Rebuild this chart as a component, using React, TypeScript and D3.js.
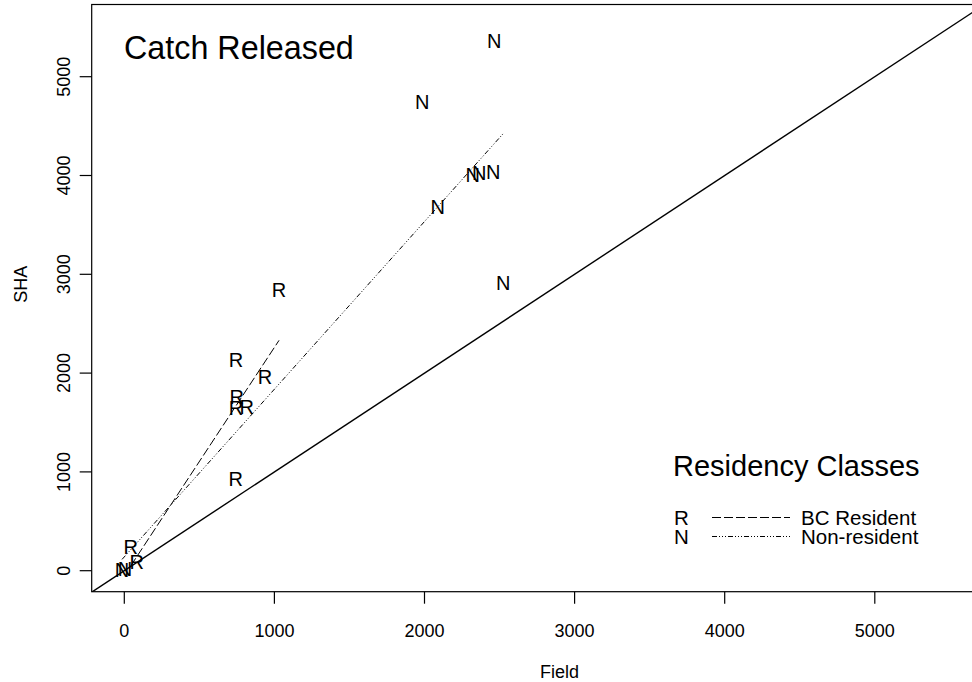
import React from "react";
import * as d3 from "d3";

// Data
const resX = [1031, 744, 937, 749, 744, 815, 742, 43, 83];
const resY = [2841, 2136, 1964, 1761, 1647, 1660, 928, 237, 91];
const nonX = [2465, 1985, 2321, 2365, 2458, 2088, 2525, -15, 5];
const nonY = [5364, 4747, 4005, 4028, 4038, 3684, 2915, 7, 17];
const resFit = [-50, 2.31]; // intercept, slope
const nonFit = [140, 1.697];
const xTicks = [0, 1000, 2000, 3000, 4000, 5000];
const yTicks = [0, 1000, 2000, 3000, 4000, 5000];
const legendLabels = ["BC Resident", "Non-resident"];
const legendKeys = ["R", "N"];

const W = 972;
const H = 682;
const FONT = "'Liberation Sans', Arial, Helvetica, sans-serif";

export default function App() {
  const x = d3.scaleLinear().domain([0, 5000]).range([124.3, 874.8]);
  const y = d3.scaleLinear().domain([0, 5000]).range([570.7, 76.7]);
  const box = { left: 91.7, top: 4.5, right: 977, bottom: 591.7 };

  const line = d3
    .line<[number, number]>()
    .x((d) => x(d[0]))
    .y((d) => y(d[1]));

  const fitPts = (xs: number[], fit: number[]): [number, number][] => {
    const lo = d3.min(xs)!;
    const hi = d3.max(xs)!;
    return [
      [lo, fit[0] + fit[1] * lo],
      [hi, fit[0] + fit[1] * hi],
    ];
  };
  const vLo = x.invert(box.left) - 100;
  const vHi = 6000;
  const dashR = "9,3";
  const dashN = "5,2,1,2,1,2,1,2";

  return (
    <svg
      width={W}
      height={H}
      style={{ position: "absolute", left: 0, top: 0, background: "#fff" }}
      fontFamily={FONT}
    >
      <defs>
        <clipPath id="plotclip">
          <rect x={box.left} y={box.top} width={box.right - box.left} height={box.bottom - box.top} />
        </clipPath>
      </defs>
      <rect x={0} y={0} width={W} height={H} fill="#fff" />
      <rect
        x={box.left}
        y={box.top}
        width={box.right - box.left}
        height={box.bottom - box.top}
        fill="none"
        stroke="#000"
        strokeWidth={1.2}
      />
      {xTicks.map((t) => (
        <g key={"xt" + t}>
          <line x1={x(t)} x2={x(t)} y1={box.bottom} y2={box.bottom + 12} stroke="#000" strokeWidth={1.2} />
          <text x={x(t)} y={637} fontSize={18} textAnchor="middle">
            {t}
          </text>
        </g>
      ))}
      {yTicks.map((t) => (
        <g key={"yt" + t}>
          <line x1={box.left - 12} x2={box.left} y1={y(t)} y2={y(t)} stroke="#000" strokeWidth={1.2} />
          <text transform={`translate(70,${y(t)}) rotate(-90)`} fontSize={18} textAnchor="middle">
            {t}
          </text>
        </g>
      ))}
      <text x={x(2900)} y={678} fontSize={18} textAnchor="middle">
        Field
      </text>
      <text transform={`translate(27,${y(2900)}) rotate(-90)`} fontSize={18} textAnchor="middle">
        SHA
      </text>

      <g clipPath="url(#plotclip)">
        <path d={line([[vLo, vLo], [vHi, vHi]])!} stroke="#000" strokeWidth={1.4} fill="none" />
        <path d={line(fitPts(resX, resFit))!} stroke="#000" strokeWidth={1} fill="none" strokeDasharray={dashR} />
        <path d={line(fitPts(nonX, nonFit))!} stroke="#000" strokeWidth={1} fill="none" strokeDasharray={dashN} />
        {resX.map((v, i) => (
          <text key={"r" + i} x={x(v)} y={y(resY[i])} dy="0.36em" fontSize={20} textAnchor="middle">
            R
          </text>
        ))}
        {nonX.map((v, i) => (
          <text key={"n" + i} x={x(v)} y={y(nonY[i])} dy="0.36em" fontSize={20} textAnchor="middle">
            N
          </text>
        ))}
      </g>

      <text x={124} y={59} fontSize={32.3}>
        Catch Released
      </text>

      <text x={673} y={476} fontSize={29}>
        Residency Classes
      </text>
      {legendKeys.map((k, i) => (
        <g key={"lg" + i}>
          <text x={681.5} y={524.5 + i * 19} fontSize={20.5} textAnchor="middle">
            {k}
          </text>
          <line
            x1={712}
            x2={790}
            y1={517.5 + i * 19}
            y2={517.5 + i * 19}
            stroke="#000"
            strokeWidth={1}
            strokeDasharray={i === 0 ? dashR : dashN}
          />
          <text x={801} y={524.5 + i * 19} fontSize={20.5}>
            {legendLabels[i]}
          </text>
        </g>
      ))}
    </svg>
  );
}
